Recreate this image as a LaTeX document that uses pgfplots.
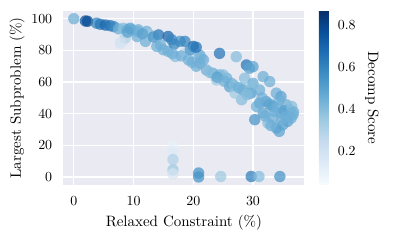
\documentclass[border=0pt]{standalone}
\usepackage{pgfplots}
\usepackage{pgfplotstable}
\pgfplotsset{compat=1.18}
\definecolor{bg}{HTML}{EAEAF2}
\pgfplotsset{colormap={blues}{rgb255=(247,251,255) rgb255=(222,235,247) rgb255=(198,219,239) rgb255=(158,202,225) rgb255=(107,174,214) rgb255=(66,146,198) rgb255=(33,113,181) rgb255=(8,81,156) rgb255=(8,48,107)}}
\pgfplotstableread{
x y c
0 100 0.45
1.95 98.6 0.75
2.3 98.4 0.78
3.8 97.2 0.6
4.45 96.5 0.65
5.3 96 0.7
6.1 95.6 0.65
6.7 95 0.6
7.5 93.6 0.45
8.3 94 0.4
8.9 93 0.45
9.7 93 0.4
8.6 87.7 0.3
7.8 84.6 0.2
10.6 92 0.45
9.45 94 0.5
10.8 93 0.45
12.2 92 0.45
10.6 88.8 0.45
12 85.7 0.45
12.8 89.8 0.35
14.2 89.8 0.65
15.8 88.8 0.7
16.4 86.7 0.6
17.8 85.7 0.55
18.6 85.7 0.6
20 82.5 0.7
13.9 82.5 0.45
15 80.4 0.45
15.8 79.4 0.45
17 76.2 0.4
18.6 78.3 0.25
19.2 74 0.45
20.8 77.2 0.3
21.4 75.2 0.35
21.1 77 0.45
24.4 78.1 0.65
27.2 76 0.4
28.9 70.8 0.65
29.4 68.7 0.5
22.2 67.6 0.45
23.3 65.5 0.45
24.4 64.5 0.45
25.6 62.4 0.45
26.4 59.2 0.45
23.9 61.3 0.35
28.6 62.4 0.4
28.3 56.1 0.35
30 59.2 0.45
29.7 53 0.5
21.7 74 0.45
21.1 71.8 0.45
30 69.7 0.5
31.7 63.4 0.45
32.8 60.3 0.45
31.1 55 0.45
30 58.2 0.4
33.9 53 0.45
34.7 50.8 0.5
34.4 48.7 0.45
32.2 47.7 0.5
31.1 46.7 0.5
33.3 44.5 0.5
35.6 45.6 0.45
36.1 42.5 0.45
36.7 39.3 0.45
34.7 40.4 0.5
33.6 41.4 0.45
30.3 36.2 0.55
32.5 34.1 0.4
33.9 30.9 0.5
35 33 0.5
35.8 35.1 0.5
33.3 37.2 0.45
31.7 40.4 0.5
30.6 44.5 0.45
36.4 37.2 0.45
34.4 28.8 0.5
28.1 48.8 0.4
29.4 53 0.45
25 64.5 0.4
26.1 57 0.5
27 53 0.35
28.3 55 0.45
19.8 72.5 0.45
20.5 70 0.45
22.8 66 0.4
24 63 0.5
25.2 60.5 0.45
26.8 58 0.4
27.6 56.5 0.45
29 52 0.4
31.5 50 0.45
32.8 46 0.5
34 44 0.45
35.2 42 0.5
36.5 44.5 0.4
35.5 38 0.45
34.8 36 0.45
32 38.5 0.45
33 32.5 0.45
36.8 41 0.45
11.5 90.5 0.5
13.3 88.5 0.55
16.8 84 0.6
14.5 83.5 0.45
16.5 78 0.45
18 76.5 0.45
19.5 80.5 0.55
20.5 82 0.65
9 91.5 0.5
16.6 19.5 0.1
16.6 16 0.15
16.6 11 0.3
16.6 4.5 0.35
16.6 2 0.18
20.9 0 0.55
20.9 2.5 0.55
24.6 0.3 0.35
29.7 0.3 0.62
31.0 0.3 0.4
34.5 0.3 0.55
}\datatable
\begin{document}
\begin{tikzpicture}
\begin{axis}[
  scale only axis, width=173.5pt, height=125.3pt,
  xmin=-1.75, xmax=38.6, ymin=-5, ymax=105,
  axis background/.style={fill=bg},
  axis line style={draw=none},
  grid=major, major grid style={white, line width=0.8pt},
  tick style={draw=none},
  xtick={0,10,20,30}, ytick={0,20,40,60,80,100},
  tick label style={font=\fontsize{9.8}{11}\selectfont},
  label style={font=\fontsize{10.8}{13}\selectfont},
  xticklabel style={yshift=-5pt},
  yticklabel style={xshift=-4.5pt},
  ylabel style={yshift=-2pt},
  xlabel={Relaxed Constraint (\%)}, ylabel={Largest Subproblem (\%)},
  colormap name=blues, colorbar,
  point meta min=0.04, point meta max=0.87,
  colorbar shift/.style={xshift=10pt},
  colorbar style={width=7.2pt, ytick={0.2,0.4,0.6,0.8},
    yticklabel style={font=\fontsize{9.8}{11}\selectfont, xshift=3pt, /pgf/number format/fixed, /pgf/number format/precision=1, /pgf/number format/fixed zerofill},
    ylabel={Decomp Score}, ylabel style={rotate=180, font=\fontsize{10.8}{13}\selectfont},
    axis line style={draw=none}, tick style={draw=none}},
]
\addplot[scatter, only marks, mark=*, mark size=4.1pt, point meta=explicit,
  scatter/use mapped color={draw=mapped color, fill=mapped color},
  mark options={draw opacity=0, fill opacity=0.72}]
  table[x=x, y=y, meta=c] {\datatable};
\end{axis}
\pgfresetboundingbox
\path (-45.6pt,-39.6pt) rectangle (240.2pt,133.1pt);
\end{tikzpicture}
\end{document}
